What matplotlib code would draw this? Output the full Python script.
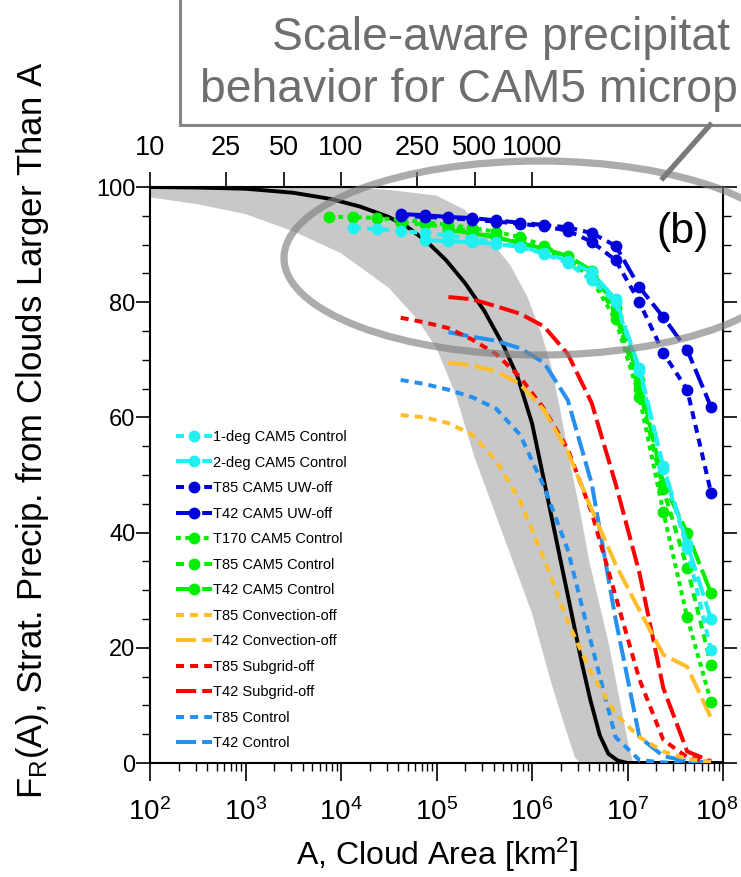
import numpy as np
import matplotlib
matplotlib.use("Agg")
import matplotlib.pyplot as plt
from matplotlib.patches import Ellipse, Rectangle
from matplotlib.lines import Line2D
from matplotlib.ticker import (FixedLocator, NullLocator, LogLocator, NullFormatter,
                               LogFormatterSciNotation, FuncFormatter)

plt.rcParams['font.family'] = ['Liberation Sans', 'DejaVu Sans']
plt.rcParams['mathtext.fontset'] = 'custom'
plt.rcParams['mathtext.rm'] = 'Liberation Sans'
plt.rcParams['mathtext.it'] = 'Liberation Sans'
plt.rcParams['mathtext.default'] = 'regular'

# ---------------- data ----------------
# log10 of cloud-area bin centres (km^2)
log_area = [3.875, 4.125, 4.375, 4.625, 4.875, 5.125, 5.375, 5.625, 5.875,
            6.125, 6.375, 6.625, 6.875, 7.125, 7.375, 7.625, 7.875]
nan = np.nan
deg1_cam5_ctrl = [nan, 92.9, 92.7, 92.4, 92.0, 91.6, 91.0, 90.4, 89.6, 88.4, 86.8, 83.8, 80.0, 68.0, 51.0, 37.3, 19.6]
deg2_cam5_ctrl = [nan, nan, nan, nan, 90.8, 90.6, 90.4, 90.1, 89.6, 88.6, 87.2, 85.2, 80.5, 68.5, 51.5, 38.0, 25.0]
t85_cam5_uwoff = [nan, nan, nan, 95.0, 94.8, 94.6, 94.3, 94.0, 93.6, 93.2, 92.4, 90.5, 87.3, 80.0, 71.2, 64.8, 46.9]
t42_cam5_uwoff = [nan, nan, nan, 95.3, 95.1, 94.8, 94.6, 94.2, 93.8, 93.4, 93.0, 92.0, 89.8, 82.6, 77.4, 71.7, 61.8]
t170_cam5_ctrl = [94.8, 94.8, 94.6, 94.3, 93.9, 93.4, 92.9, 92.2, 91.3, 89.8, 87.5, 84.0, 77.0, 63.5, 43.6, 25.3, 10.6]
t85_cam5_ctrl = [nan, nan, nan, 93.8, 93.5, 93.0, 92.3, 91.3, 90.3, 89.0, 87.3, 84.5, 78.0, 65.0, 47.5, 33.9, 17.0]
t42_cam5_ctrl = [nan, nan, nan, nan, nan, 92.5, 92.0, 91.2, 90.3, 89.3, 88.0, 85.5, 79.0, 66.5, 48.5, 40.0, 29.5]
t85_conv_off = [nan, nan, nan, 60.4, 60.0, 59.0, 57.0, 52.5, 45.5, 35.5, 24.5, 15.5, 8.5, 4.5, 2.0, 0.7, 0.2]
t42_conv_off = [nan, nan, nan, nan, nan, 69.5, 69.0, 68.0, 65.8, 61.3, 54.0, 44.0, 34.5, 26.5, 18.8, 16.7, 7.8]
t85_subgrid_off = [nan, nan, nan, 77.3, 76.5, 75.5, 73.5, 71.0, 67.0, 61.5, 54.5, 43.5, 29.0, 14.5, 4.0, 1.0, 0.2]
t42_subgrid_off = [nan, nan, nan, nan, nan, 80.9, 80.5, 79.3, 78.0, 75.8, 71.0, 62.5, 48.5, 33.0, 13.0, 2.0, 0.3]
t85_ctrl = [nan, nan, nan, 66.5, 65.8, 64.8, 63.5, 61.5, 57.0, 48.0, 37.0, 20.5, 4.5, 0.5, 0.1, 0.0, 0.0]
t42_ctrl = [nan, nan, nan, nan, nan, 74.8, 74.0, 73.3, 72.0, 69.5, 63.0, 48.5, 25.0, 4.5, 1.2, 0.3, 0.1]

# observational fit (black) and its spread (grey band)
obs_log_area = [2.0, 2.5, 3.0, 3.5, 3.9, 4.2, 4.5, 4.7, 4.9, 5.1, 5.3, 5.5, 5.7, 5.85,
                6.0, 6.12, 6.22, 6.32, 6.42, 6.52, 6.61, 6.71, 6.8, 6.9, 7.0, 8.0]
obs_frac = [100.0, 99.9, 99.7, 99.0, 97.9, 96.6, 94.8, 93.0, 90.5, 87.3, 83.3, 78.5, 72.5, 67.0,
            59.0, 49.5, 41.5, 33.5, 25.5, 17.5, 11.0, 4.8, 1.6, 0.4, 0.0, 0.0]
band_hi_log_area = [2.0, 4.0, 4.5, 5.0, 5.3, 5.5, 5.77, 5.95, 6.1, 6.2, 6.3, 6.4, 6.5,
                    6.6, 6.7, 6.8, 6.9, 7.0, 7.06]
band_hi = [100.0, 100.0, 99.5, 98.5, 96.0, 92.0, 86.5, 81.0, 74.5, 69.0, 61.0, 52.0, 44.0,
           35.0, 28.0, 21.0, 12.5, 4.0, 0.0]
band_lo_log_area = [2.0, 2.5, 3.0, 3.5, 4.0, 4.5, 4.8, 5.0, 5.2, 5.4, 5.6, 5.8, 6.0,
                    6.2, 6.35, 6.45, 6.5]
band_lo = [98.2, 97.0, 95.3, 92.3, 88.5, 82.5, 77.0, 72.0, 64.0, 53.0, 44.0, 35.0, 26.0,
           14.0, 6.0, 1.0, 0.0]

top_resolution = [10, 25, 50, 100, 250, 500, 1000]
ytick_vals = [0, 20, 40, 60, 80, 100]

# ---------------- styles ----------------
CYAN = '#22F0F0'
BLUE = '#0000DD'
GREEN = '#00EE00'
ORANGE = '#FFBE2A'
RED = '#FF0000'
DBLUE = '#2490F0'
SHORT = (2.0, 1.5)
LONG = (5.0, 1.5)
DOT = (1.2, 1.1)

series = [
    (deg1_cam5_ctrl, CYAN, SHORT, True, '1-deg CAM5 Control'),
    (deg2_cam5_ctrl, CYAN, LONG, True, '2-deg CAM5 Control'),
    (t85_cam5_uwoff, BLUE, SHORT, True, 'T85 CAM5 UW-off'),
    (t42_cam5_uwoff, BLUE, LONG, True, 'T42 CAM5 UW-off'),
    (t170_cam5_ctrl, GREEN, DOT, True, 'T170 CAM5 Control'),
    (t85_cam5_ctrl, GREEN, SHORT, True, 'T85 CAM5 Control'),
    (t42_cam5_ctrl, GREEN, LONG, True, 'T42 CAM5 Control'),
    (t85_conv_off, ORANGE, SHORT, False, 'T85 Convection-off'),
    (t42_conv_off, ORANGE, LONG, False, 'T42 Convection-off'),
    (t85_subgrid_off, RED, SHORT, False, 'T85 Subgrid-off'),
    (t42_subgrid_off, RED, LONG, False, 'T42 Subgrid-off'),
    (t85_ctrl, DBLUE, SHORT, False, 'T85 Control'),
    (t42_ctrl, DBLUE, LONG, False, 'T42 Control'),
]

W, H = 741, 877
fig = plt.figure(figsize=(W / 100, H / 100), dpi=100)
ax = fig.add_axes([150 / W, (H - 763) / H, 573 / W, 576 / H])

# grey band
bx = list(10 ** np.array(band_hi_log_area)) + list(10 ** np.array(band_lo_log_area))[::-1]
by = band_hi + band_lo[::-1]
ax.fill(bx, by, color='#C8C8C8', lw=0, zorder=1)
ax.plot(10 ** np.array(obs_log_area), obs_frac, color='black', lw=2.8, zorder=3)

area = 10 ** np.array(log_area)
handles = []
for vals, col, dash, mk, lab in series[::-1]:
    y = np.array(vals, dtype=float)
    ax.plot(area, y, color=col, lw=2.9, dashes=dash, marker='o' if mk else None,
            ms=7.5, zorder=4)
for vals, col, dash, mk, lab in series:
    handles.append(Line2D([], [], color=col, lw=2.9, dashes=dash,
                          marker='o' if mk else None, ms=7.5, label=lab))

XMIN, XMAX = 1e2, 1e8
ax.set_xscale('log')
ax.set_xlim(XMIN, XMAX)
ax.set_ylim(0, 100)
ax.yaxis.set_major_locator(FixedLocator(ytick_vals))
ax.yaxis.set_minor_locator(FixedLocator(list(range(0, 101, 5))))
ax.xaxis.set_major_locator(LogLocator(base=10, numticks=20))
ax.xaxis.set_minor_locator(LogLocator(base=10, subs=np.arange(2, 10), numticks=20))
ax.xaxis.set_minor_formatter(NullFormatter())
_sci = LogFormatterSciNotation()
ax.xaxis.set_major_formatter(FuncFormatter(
    lambda v, p: '' if v >= XMAX * 0.999 else _sci(v, p)))
ax.tick_params(axis='both', which='major', direction='out', width=1.2,
               right=True, top=False)
ax.tick_params(axis='both', which='minor', direction='out', length=6, width=1.0,
               right=True, top=False)
ax.tick_params(axis='x', which='major', length=13, pad=12, labelsize=20)
ax.tick_params(axis='y', which='major', length=10, pad=0.5, labelsize=17)
for s in ax.spines.values():
    s.set_linewidth(1.5)
# last bottom label, nudged inward so that it stays inside the picture
ax.annotate('$10^{8}$', xy=(XMAX, 0), xycoords=('data', 'axes fraction'),
            xytext=(-4.5, -25), textcoords='offset points', ha='center', va='top',
            fontsize=20, annotation_clip=False)

ax2 = ax.twiny()
ax2.set_xscale('log')
ax2.set_xlim(ax.get_xlim())
ax2.xaxis.set_major_locator(FixedLocator([d ** 2 for d in top_resolution]))
ax2.xaxis.set_minor_locator(NullLocator())
ax2.set_xticklabels([str(d) for d in top_resolution])
ax2.tick_params(axis='x', which='major', direction='out', length=11, width=1.2,
                labelsize=19.5, pad=8)
for s in ax2.spines.values():
    s.set_visible(False)

ax.set_xlabel('A, Cloud Area [km$^2$]', fontsize=23, labelpad=7)
ax.set_ylabel('F$_R$(A), Strat. Precip. from Clouds Larger Than A', fontsize=25)
ax.yaxis.set_label_coords(-0.172, 0.578)

ax.text(0.975, 0.922, '(b)', transform=ax.transAxes, ha='right', va='center',
        fontsize=31)

leg = ax.legend(handles=handles, loc='upper left', bbox_to_anchor=(0.045, 0.578),
                frameon=False, fontsize=10.5, handlelength=2.47, handletextpad=0.1,
                labelspacing=0.79, borderpad=0, borderaxespad=0)
leg.set_zorder(6)

# annotation: box with text, connector and ellipse
box = Rectangle((180 / W, 1 - 125 / H), 1.0, 0.5, transform=fig.transFigure,
                facecolor='white', edgecolor='#858585', lw=2.2, clip_on=False)
fig.add_artist(box)
fig.text(272 / W, 1 - 38 / H, 'Scale-aware precipitat', fontsize=33.3,
         color='#6E6E6E', ha='left', va='center')
fig.text(200 / W, 1 - 90 / H, 'behavior for CAM5 microp', fontsize=33.3,
         color='#6E6E6E', ha='left', va='center')
fig.add_artist(Line2D([710 / W, 663 / W], [1 - 125 / H, 1 - 178 / H],
                      transform=fig.transFigure, color='#7A7A7A', lw=3.8))
ell = Ellipse((540 / W, 1 - 258 / H), 512 / W, 194 / H, transform=fig.transFigure,
              fill=False, edgecolor='#808080', lw=5.2, alpha=0.65)
fig.add_artist(ell)

fig.savefig('out.png', dpi=100)
